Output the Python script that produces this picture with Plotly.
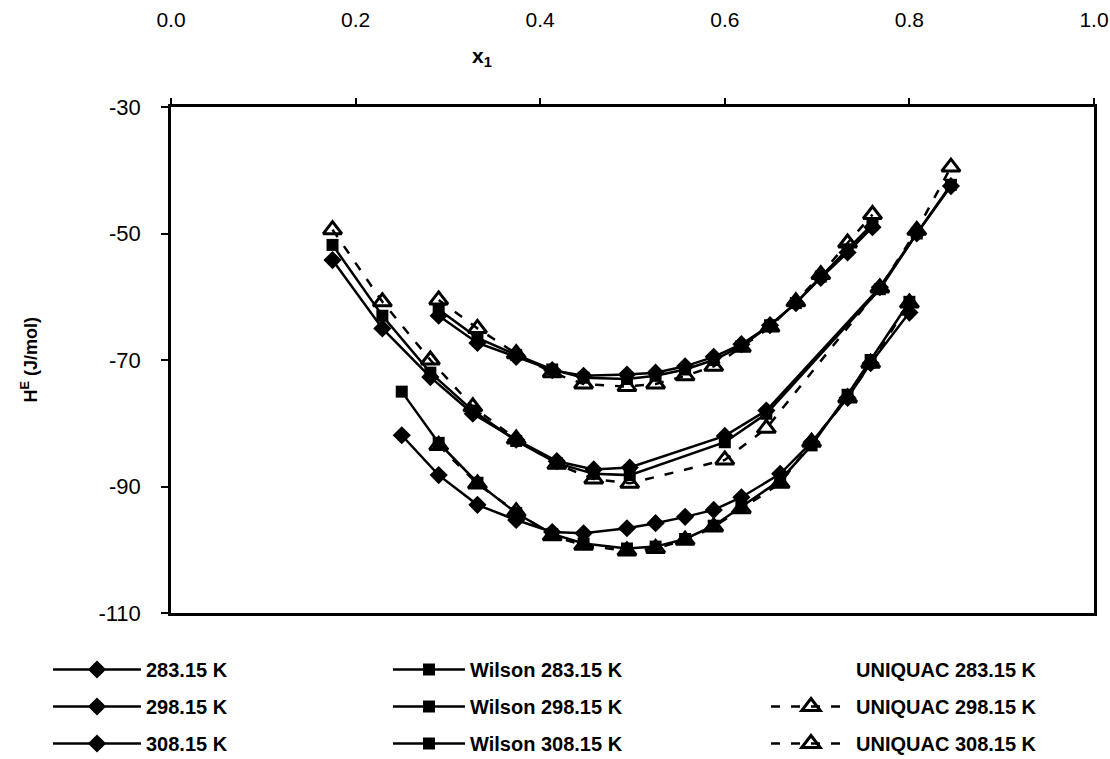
import plotly.graph_objects as go

# ---------------- data ----------------
x_A = [0.290, 0.332, 0.374, 0.413, 0.447, 0.494, 0.525, 0.557, 0.588, 0.618, 0.649, 0.677, 0.704, 0.733, 0.760]
exp_A = [-63.0, -67.3, -69.5, -71.6, -72.5, -72.3, -72.0, -71.0, -69.5, -67.5, -64.5, -61.0, -57.0, -53.0, -49.0]
wil_A = [-62.0, -66.5, -69.2, -71.5, -72.8, -73.0, -72.5, -71.5, -70.0, -67.8, -64.5, -61.0, -56.8, -52.5, -48.5]
uni_A = [-60.5, -65.0, -69.0, -72.0, -73.8, -74.2, -73.8, -72.5, -71.0, -68.0, -64.8, -60.8, -56.5, -51.5, -47.0]

x_B = [0.175, 0.229, 0.281, 0.327, 0.374, 0.418, 0.458, 0.497, 0.600, 0.645, 0.768, 0.808, 0.845]
exp_B = [-54.2, -65.0, -72.7, -78.5, -82.6, -86.0, -87.3, -87.0, -82.0, -78.0, -58.5, -50.0, -42.5]
wil_B = [-51.8, -63.0, -72.0, -78.0, -82.8, -86.3, -88.0, -88.2, -83.0, -78.5, -58.8, -50.0, -42.3]
uni_B = [-49.4, -60.8, -70.0, -77.4, -82.5, -86.5, -88.8, -89.5, -85.8, -80.8, -58.6, -49.5, -39.5]

x_C = [0.250, 0.290, 0.332, 0.374, 0.413, 0.447, 0.494, 0.525, 0.557, 0.588, 0.618, 0.660, 0.694, 0.733, 0.758, 0.800]
exp_C = [-81.9, -88.2, -92.9, -95.3, -97.2, -97.4, -96.6, -95.8, -94.8, -93.7, -91.7, -88.0, -83.0, -76.0, -70.5, -62.5]
wil_C = [-75.0, -83.1, -89.4, -94.2, -97.5, -99.0, -99.8, -99.5, -98.3, -96.2, -93.2, -89.0, -83.5, -75.5, -70.0, -60.8]
x_C_uni = [0.290, 0.332, 0.374, 0.413, 0.447, 0.494, 0.525, 0.557, 0.588, 0.618, 0.660, 0.694, 0.733, 0.758, 0.800]
uni_C = [-83.5, -89.6, -94.0, -97.8, -99.3, -100.2, -99.8, -98.5, -96.4, -93.5, -89.5, -83.0, -76.0, -70.5, -61.0]

temps = ["283.15 K", "298.15 K", "308.15 K"]
x_ticks = [0.0, 0.2, 0.4, 0.6, 0.8, 1.0]
y_ticks = [-30, -50, -70, -90, -110]

FONT = "Liberation Sans, Arial, sans-serif"

W, H = 1110, 759
PL, PR, PT, PB = 171, 1094, 107, 613   # plot area in page pixels

fig = go.Figure()

exp_sets = [(x_A, exp_A), (x_B, exp_B), (x_C, exp_C)]
wil_sets = [(x_A, wil_A), (x_B, wil_B), (x_C, wil_C)]
uni_sets = [(x_A, uni_A), (x_B, uni_B), (x_C_uni, uni_C)]

for i, (xs, ys) in enumerate(exp_sets):
    fig.add_trace(go.Scatter(
        x=xs, y=ys, mode="lines+markers", name=temps[i],
        line=dict(color="black", width=2.5),
        marker=dict(symbol="diamond", size=14, color="black"),
        legend="legend", legendgroup="e%d" % i))

for i, (xs, ys) in enumerate(wil_sets):
    fig.add_trace(go.Scatter(
        x=xs, y=ys, mode="lines+markers", name="Wilson " + temps[i],
        line=dict(color="black", width=2.5),
        marker=dict(symbol="square", size=12, color="black"),
        legend="legend2", legendgroup="w%d" % i))

for i, (xs, ys) in enumerate(uni_sets):
    fig.add_trace(go.Scatter(
        x=xs, y=ys, mode="lines+markers", name="UNIQUAC " + temps[i],
        line=dict(color="black", width=2.5, dash="9px,11px"),
        marker=dict(symbol="triangle-up-open", size=16, color="black",
                    line=dict(color="black", width=3)),
        showlegend=(i != 0),
        legend="legend3", legendgroup="u%d" % i))

# legend-only entry (no visible symbol in the reference)
fig.add_trace(go.Scatter(
    x=[None], y=[None], mode="lines", name="UNIQUAC " + temps[0],
    line=dict(color="rgba(0,0,0,0)", width=1),
    legend="legend3", legendgroup="u0", legendrank=1))

pw = PR - PL
ph = PB - PT


def px_x(page_x):
    return (page_x - PL) / pw


def px_y(page_y):
    return (PB - page_y) / ph


leg_common = dict(
    orientation="v", traceorder="grouped", tracegroupgap=8,
    font=dict(family=FONT, size=20, color="black", weight="bold"),
    bgcolor="rgba(0,0,0,0)", borderwidth=0,
    xanchor="left", yanchor="top", y=px_y(650),
)

fig.update_layout(
    width=W, height=H,
    margin=dict(l=PL, r=W - PR, t=PT, b=H - PB, autoexpand=False),
    paper_bgcolor="white", plot_bgcolor="white",
    font=dict(family=FONT, color="black"),
    showlegend=True,
    legend=dict(leg_common, x=px_x(48), itemwidth=88),
    legend2=dict(leg_common, x=px_x(388), itemwidth=72),
    legend3=dict(leg_common, x=px_x(766), itemwidth=80),
    xaxis=dict(
        range=[0, 1], side="top", tickvals=x_ticks,
        ticktext=["%.1f" % v for v in x_ticks],
        ticks="outside", ticklen=6, tickwidth=2, tickcolor="black",
        showline=True, linewidth=2.5, linecolor="black", mirror=True,
        showgrid=False, zeroline=False, automargin=False,
        tickfont=dict(family=FONT, size=21, color="black"),
        ticklabelstandoff=63, ticklabeloverflow="allow",
    ),
    yaxis=dict(
        range=[-110, -30], tickvals=y_ticks,
        ticktext=[str(v) for v in y_ticks],
        ticks="outside", ticklen=7, tickwidth=2, tickcolor="black",
        showline=True, linewidth=2.5, linecolor="black", mirror=True,
        showgrid=False, zeroline=False, automargin=False,
        tickfont=dict(family=FONT, size=22, color="black"),
        ticklabelstandoff=16,
    ),
    annotations=[
        dict(text="<b>x<sub>1</sub></b>", xref="paper", yref="paper",
             x=px_x(470), y=px_y(42), showarrow=False,
             font=dict(family=FONT, size=21, color="black")),
        dict(text="<b>H<sup>E</sup> (J/mol)</b>", xref="paper", yref="paper",
             x=px_x(16), y=px_y(360), showarrow=False,
             textangle=-90,
             font=dict(family=FONT, size=18, color="black")),
    ],
)

page_fix = (
    "document.documentElement.style.margin='0';"
    "document.documentElement.style.overflow='hidden';"
    "document.body.style.margin='0';"
    "document.body.style.padding='0';"
    "document.body.style.overflow='hidden';"
)

fig.write_html("out.html", post_script=page_fix,
               config={"displayModeBar": False})
